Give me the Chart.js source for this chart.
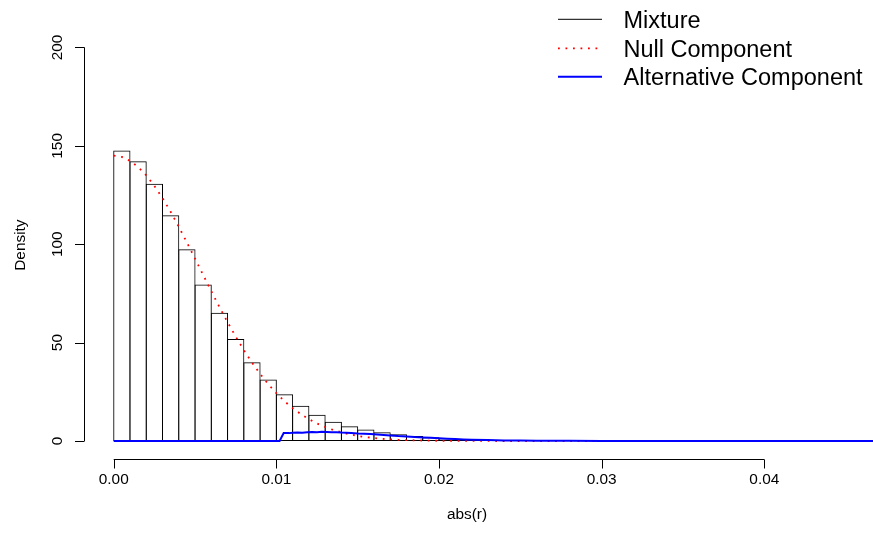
<!DOCTYPE html>
<html>
<head>
<meta charset="utf-8">
<script src="https://cdn.jsdelivr.net/npm/chart.js@4.4.1/dist/chart.umd.min.js"></script>
<style>
  html, body { margin: 0; padding: 0; background: #ffffff; }
  canvas { display: block; }
</style>
</head>
<body>
<canvas id="chart" width="873" height="538"></canvas>
<script>
// Histogram of abs(r): bin width and density per bin (bins start at 0)
const binWidth = 0.001;
const mixtureDensity = [
  147.7, 142.2, 130.8, 114.7, 97.4, 79.6, 65.2, 51.8, 40.0, 31.2,
  23.7, 17.9, 13.4, 9.8, 7.5, 5.8, 4.4, 3.4, 2.5, 1.9,
  1.4, 1.0, 0.7, 0.5, 0.35, 0.25, 0.18, 0.12, 0.08, 0.06,
  0.04, 0.03, 0.02, 0.02, 0.01, 0.01, 0.01, 0, 0, 0,
  0, 0, 0, 0, 0, 0, 0
];

// Null component density curve
const nullX = [
  0, 0.0005, 0.001, 0.0015, 0.002, 0.0025, 0.003, 0.0035, 0.004, 0.0045,
  0.005, 0.0055, 0.006, 0.0065, 0.007, 0.0075, 0.008, 0.0085, 0.009, 0.0095,
  0.010, 0.0105, 0.011, 0.0115, 0.012, 0.0125, 0.013, 0.0135, 0.014, 0.0145,
  0.015, 0.0155, 0.016, 0.0165, 0.017, 0.0175, 0.018, 0.019, 0.020, 0.021,
  0.022, 0.023, 0.025, 0.030, 0.047
];
const nullDensity = [
  145.0, 144.4, 142.4, 139.3, 135.0, 129.7, 123.5, 116.5, 108.9, 100.9,
  92.7, 84.4, 76.1, 68.1, 60.4, 53.1, 46.2, 39.9, 34.1, 28.9,
  24.3, 20.2, 16.7, 13.7, 11.1, 8.9, 7.1, 5.6, 4.4, 3.4,
  2.6, 2.0, 1.5, 1.1, 0.83, 0.61, 0.45, 0.23, 0.11, 0.05,
  0.02, 0.01, 0, 0, 0
];

// Alternative component density curve
const altX = [
  0, 0.0102, 0.01045, 0.0108, 0.0110, 0.0113, 0.0116, 0.0119, 0.0122, 0.0125,
  0.0128, 0.0131, 0.0134, 0.0137, 0.0140, 0.0143, 0.0146, 0.0150, 0.0154, 0.0158,
  0.0162, 0.0166, 0.0170, 0.0175, 0.0180, 0.0185, 0.0190, 0.0195, 0.0200, 0.0205,
  0.0210, 0.0215, 0.0220, 0.0230, 0.0240, 0.0250, 0.0260, 0.0280, 0.0300, 0.0330,
  0.0470
];
const altDensity = [
  0, 0, 4.0, 4.0, 4.2, 4.3, 4.2, 4.5, 4.6, 4.4,
  4.7, 4.6, 4.4, 4.5, 4.3, 4.2, 4.0, 3.8, 3.7, 3.5,
  3.3, 3.1, 2.8, 2.5, 2.3, 2.0, 1.8, 1.6, 1.35, 1.15,
  0.95, 0.8, 0.65, 0.45, 0.3, 0.2, 0.13, 0.06, 0.02, 0,
  0
];

const xTicks = [0, 0.01, 0.02, 0.03, 0.04];
const xTickLabels = ['0.00', '0.01', '0.02', '0.03', '0.04'];
const yTicks = [0, 50, 100, 150, 200];
const yTickLabels = ['0', '50', '100', '150', '200'];
const legendLabels = ['Mixture', 'Null Component', 'Alternative Component'];
const xTitle = 'abs(r)';
const yTitle = 'Density';

const FONT = '"Liberation Sans", Arial, Helvetica, sans-serif';

const toPoints = (xs, ys) => xs.map((x, i) => ({ x: x, y: ys[i] }));
const binPoints = mixtureDensity.map((d, i) => ({ x: (i + 0.5) * binWidth, y: d }));

// Base-graphics style axes, titles and legend
const baseAxes = {
  id: 'baseAxes',
  afterDraw(chart) {
    const ctx = chart.ctx;
    const xs = chart.scales.x;
    const ys = chart.scales.y;
    const area = chart.chartArea;
    ctx.save();
    ctx.strokeStyle = '#000000';
    ctx.fillStyle = '#000000';
    ctx.lineWidth = 1;

    // x axis
    const axY = Math.round(area.bottom) + 0.5;
    ctx.beginPath();
    ctx.moveTo(xs.getPixelForValue(xTicks[0]), axY);
    ctx.lineTo(xs.getPixelForValue(xTicks[xTicks.length - 1]), axY);
    xTicks.forEach(v => {
      const px = Math.round(xs.getPixelForValue(v)) + 0.5;
      ctx.moveTo(px, axY);
      ctx.lineTo(px, axY + 9);
    });
    ctx.stroke();
    ctx.font = '15.4px ' + FONT;
    ctx.textAlign = 'center';
    ctx.textBaseline = 'alphabetic';
    xTicks.forEach((v, i) => {
      ctx.fillText(xTickLabels[i], xs.getPixelForValue(v), 483.7);
    });
    ctx.fillText(xTitle, (area.left + 849) / 2, 519);

    // y axis
    const axX = Math.round(area.left) - 0.5;
    ctx.beginPath();
    ctx.moveTo(axX, ys.getPixelForValue(yTicks[0]));
    ctx.lineTo(axX, ys.getPixelForValue(yTicks[yTicks.length - 1]));
    yTicks.forEach(v => {
      const py = Math.round(ys.getPixelForValue(v)) + 0.5;
      ctx.moveTo(axX, py);
      ctx.lineTo(axX - 9.5, py);
    });
    ctx.stroke();
    yTicks.forEach((v, i) => {
      ctx.save();
      ctx.translate(62, ys.getPixelForValue(v));
      ctx.rotate(-Math.PI / 2);
      ctx.fillText(yTickLabels[i], 0, 0);
      ctx.restore();
    });
    ctx.save();
    ctx.translate(24.5, (area.top + area.bottom) / 2);
    ctx.rotate(-Math.PI / 2);
    ctx.fillText(yTitle, 0, 0);
    ctx.restore();

    // legend
    const rows = [19.3, 48.3, 76.7];
    const ds = chart.data.datasets;
    ctx.font = '23.5px ' + FONT;
    ctx.textAlign = 'left';
    legendLabels.forEach((lab, i) => {
      const y = rows[i];
      ctx.beginPath();
      if (i === 0) {
        ctx.strokeStyle = '#000000';
        ctx.lineWidth = 1;
        ctx.setLineDash([]);
      } else {
        ctx.strokeStyle = ds[i].borderColor;
        ctx.lineWidth = ds[i].borderWidth;
        ctx.setLineDash(ds[i].borderDash || []);
      }
      ctx.moveTo(558, y);
      ctx.lineTo(602, y);
      ctx.stroke();
      ctx.setLineDash([]);
      ctx.fillStyle = '#000000';
      ctx.fillText(lab, 623.5, y + 8.3);
    });
    ctx.restore();
  }
};

new Chart(document.getElementById('chart'), {
  type: 'bar',
  data: {
    datasets: [
      {
        type: 'bar',
        label: legendLabels[0],
        data: binPoints,
        backgroundColor: 'rgba(255,255,255,0)',
        borderColor: '#000000',
        borderWidth: 1,
        borderSkipped: false,
        // bars widened by one pixel so neighbouring outlines share a single edge
        barPercentage: 1.0615,
        categoryPercentage: 1,
        order: 3
      },
      {
        type: 'line',
        label: legendLabels[1],
        data: toPoints(nullX, nullDensity),
        borderColor: '#ff0000',
        borderWidth: 1.8,
        borderDash: [1.8, 5.7],
        pointRadius: 0,
        tension: 0,
        fill: false,
        order: 2
      },
      {
        type: 'line',
        label: legendLabels[2],
        data: toPoints(altX, altDensity),
        borderColor: '#0000ff',
        borderWidth: 2,
        pointRadius: 0,
        tension: 0,
        fill: false,
        order: 1
      }
    ]
  },
  options: {
    responsive: false,
    animation: false,
    events: [],
    layout: { padding: { left: 85, right: 0, top: 31.76, bottom: 79.5 } },
    plugins: { legend: { display: false }, tooltip: { enabled: false }, title: { display: false } },
    scales: {
      x: { type: 'linear', min: -0.001765, max: 0.046683, offset: false, display: false },
      y: { type: 'linear', min: -8.9, max: 208, display: false }
    }
  },
  plugins: [baseAxes]
});
</script>
</body>
</html>
